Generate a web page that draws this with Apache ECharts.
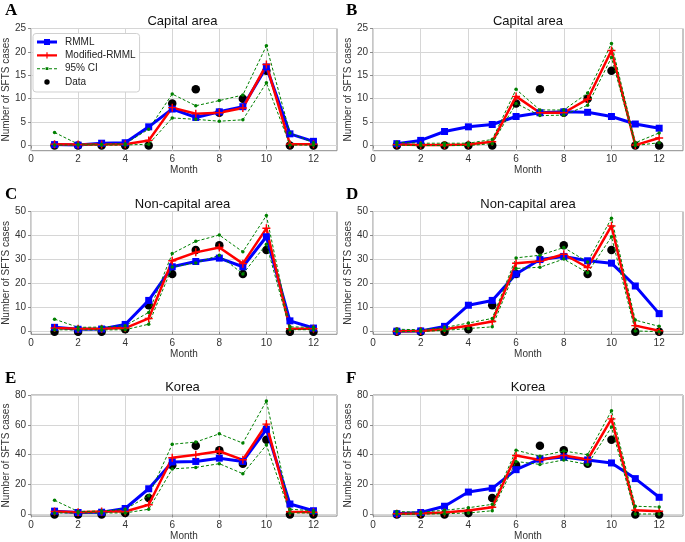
<!DOCTYPE html>
<html>
<head>
<meta charset="utf-8">
<script src="https://cdn.jsdelivr.net/npm/echarts@6/dist/echarts.min.js"></script>
<style>
  html, body { margin: 0; padding: 0; background: #fff; }
  #main { width: 685px; height: 542px; }
</style>
</head>
<body>
<div id="main"></div>
<script>
// months and tick labels
const months = [1, 2, 3, 4, 5, 6, 7, 8, 9, 10, 11, 12]
const xTicks = [0, 2, 4, 6, 8, 10, 12]
const yTicksCapital = [0, 5, 10, 15, 20, 25]
const yTicksNonCapital = [0, 10, 20, 30, 40, 50]
const yTicksKorea = [0, 20, 40, 60, 80]

// observed cases
const dataCapital = [0, 0, 0, 0, 0, 9, 12, 7, 10, 16, 0, 0]
const dataNonCapital = [0, 0, 0, 1, 11, 24, 34, 36, 24, 34, 0, 0]
const dataKorea = [0, 0, 0, 1, 11, 33, 46, 43, 34, 50, 0, 0]

// A - capital area
const rmmlA = [0.2, 0.1, 0.5, 0.6, 4.0, 7.8, 6.0, 7.2, 8.3, 16.8, 2.5, 0.9]
const modA = [0.3, 0.2, 0.2, 0.3, 1.1, 8.1, 6.8, 7.0, 8.0, 17.3, 0.3, 0.3]
const upA = [2.8, 0.3, 0.3, 0.4, 3.5, 11.0, 8.5, 9.6, 10.8, 21.3, 2.7, 0.6]
const loA = [0.1, 0.1, 0.1, 0.1, 0.3, 5.9, 5.6, 5.2, 5.5, 13.4, 0.1, 0.1]

// B - capital area
const rmmlB = [0.4, 1.1, 3.0, 4.0, 4.5, 6.2, 7.0, 7.2, 7.1, 6.2, 4.6, 3.7]
const modB = [0.2, 0.1, 0.1, 0.2, 0.8, 10.5, 7.0, 7.0, 9.9, 20.3, 0.1, 1.6]
const upB = [0.7, 0.5, 0.5, 0.5, 1.3, 12.0, 7.6, 7.6, 11.2, 21.8, 0.6, 2.7]
const loB = [0.1, 0.0, 0.0, 0.0, 0.4, 9.0, 6.4, 6.5, 8.6, 18.8, 0.0, 0.6]

// C - non-capital area
const rmmlC = [1.8, 1.0, 1.1, 3.0, 13.0, 27.0, 29.2, 30.6, 27.0, 39.5, 4.5, 1.5]
const modC = [1.5, 1.2, 1.2, 1.5, 5.5, 29.5, 33.0, 35.0, 28.3, 43.0, 1.2, 1.2]
const upC = [5.2, 1.8, 1.9, 2.5, 8.0, 32.5, 37.6, 40.2, 33.2, 48.3, 2.0, 1.8]
const loC = [0.8, 0.7, 0.7, 0.8, 3.1, 26.9, 28.6, 31.8, 24.0, 36.4, 0.8, 0.8]

// D - non-capital area
const rmmlD = [0.2, 0.3, 2.2, 11.0, 13.0, 24.0, 30.0, 31.3, 29.5, 28.5, 19.0, 7.5]
const modD = [0.2, 0.3, 1.0, 2.5, 4.2, 28.5, 29.3, 32.2, 26.7, 44.0, 2.5, 0.4]
const upD = [1.0, 0.8, 1.7, 3.6, 5.5, 30.7, 31.8, 35.0, 29.0, 47.2, 4.8, 2.2]
const loD = [0.0, 0.1, 0.5, 1.3, 2.0, 26.3, 26.8, 30.2, 24.5, 39.5, 0.3, 0.0]

// E - Korea
const rmmlE = [2.2, 1.3, 1.5, 4.0, 17.2, 35.2, 35.5, 37.7, 35.5, 57.0, 7.0, 2.5]
const modE = [2.0, 1.5, 2.0, 2.0, 6.5, 38.0, 40.0, 42.3, 36.6, 60.5, 1.8, 1.5]
const upE = [9.5, 2.0, 2.3, 3.5, 12.5, 47.0, 48.5, 54.0, 47.8, 76.0, 3.5, 2.5]
const loE = [1.0, 1.0, 1.0, 1.0, 3.5, 30.5, 31.5, 34.0, 27.3, 46.5, 1.0, 1.0]

// F - Korea
const rmmlF = [0.5, 1.3, 5.5, 15.0, 17.5, 30.0, 37.0, 38.5, 36.5, 34.5, 24.0, 11.5]
const modF = [0.5, 0.7, 1.3, 2.6, 4.8, 39.5, 36.5, 39.5, 36.8, 64.0, 2.8, 2.2]
const upF = [2.0, 1.5, 2.8, 4.5, 6.8, 43.0, 39.0, 42.5, 40.0, 69.5, 5.5, 5.0]
const loF = [0.1, 0.2, 0.5, 1.0, 2.5, 35.5, 33.5, 36.5, 33.5, 58.5, 0.3, 0.3]

const panels = [
  { letter: 'A', title: 'Capital area', left: 28, top: 28.5, width: 309, height: 122.2, yMax: 25, yTicks: yTicksCapital, rmml: rmmlA, mod: modA, up: upA, lo: loA, data: dataCapital },
  { letter: 'B', title: 'Capital area', left: 373, top: 28.5, width: 310, height: 122.2, yMax: 25, yTicks: yTicksCapital, rmml: rmmlB, mod: modB, up: upB, lo: loB, data: dataCapital },
  { letter: 'C', title: 'Non-capital area', left: 28, top: 211.5, width: 309, height: 122.8, yMax: 50, yTicks: yTicksNonCapital, rmml: rmmlC, mod: modC, up: upC, lo: loC, data: dataNonCapital },
  { letter: 'D', title: 'Non-capital area', left: 373, top: 211.5, width: 310, height: 122.8, yMax: 50, yTicks: yTicksNonCapital, rmml: rmmlD, mod: modD, up: upD, lo: loD, data: dataNonCapital },
  { letter: 'E', title: 'Korea', left: 28, top: 395, width: 309, height: 122.4, yMax: 80, yTicks: yTicksKorea, rmml: rmmlE, mod: modE, up: upE, lo: loE, data: dataKorea },
  { letter: 'F', title: 'Korea', left: 373, top: 395, width: 310, height: 122.4, yMax: 80, yTicks: yTicksKorea, rmml: rmmlF, mod: modF, up: upF, lo: loF, data: dataKorea }
]

const FONT = 'Liberation Sans, Arial, sans-serif'
const PLUS = 'path://M-0.18,-1H0.18V-0.18H1V0.18H0.18V1H-0.18V0.18H-1V-0.18H-0.18Z'

// legend icons (20 x 10 box, corners anchored)
const BOX = 'M0,0L0,0M20,10L20,10'
const ICON_RMML = 'path://' + BOX + 'M0,3.6H20V6.4H0ZM7,2H13V8H7Z'
const ICON_MOD = 'path://' + BOX + 'M0,3.8H20V6.2H0ZM9.4,1.8H10.6V8.2H9.4Z'
const ICON_CI = 'path://' + BOX + 'M0,4.5H3V5.5H0ZM5,4.5H8V5.5H5ZM12,4.5H15V5.5H12ZM17,4.5H20V5.5H17ZM8.6,3.6H11.4V6.4H8.6Z'
const ICON_DATA = 'path://' + BOX + 'M7.3,5A2.7,2.7 0 1,0 12.7,5A2.7,2.7 0 1,0 7.3,5Z'

function pairs (arr) {
  return months.map((m, i) => [m, arr[i]])
}

const chart = echarts.init(document.getElementById('main'), null, { renderer: 'canvas' })

const grid = []
const xAxis = []
const yAxis = []
const series = []
const title = []

panels.forEach(function (p, i) {
  grid.push({
    left: p.left, top: p.top, width: p.width, height: p.height,
    show: true, borderColor: '#8c8c8c', borderWidth: 1, backgroundColor: '#fff'
  })
  xAxis.push({
    gridIndex: i, type: 'value', min: 0, max: 13,
    name: 'Month', nameLocation: 'middle', nameGap: 14,
    nameTextStyle: { fontFamily: FONT, fontSize: 10, color: '#333' },
    axisLine: { show: false },
    axisTick: { show: true, length: 3, customValues: xTicks, lineStyle: { color: '#8c8c8c' } },
    axisLabel: { customValues: xTicks, margin: 4, fontFamily: FONT, fontSize: 10, color: '#333' },
    splitLine: { show: true, lineStyle: { color: '#d6d6d6', width: 1 } }
  })
  yAxis.push({
    gridIndex: i, type: 'value', min: -1.1, max: p.yMax,
    name: 'Number of SFTS cases', nameLocation: 'middle', nameGap: 17,
    nameTextStyle: { fontFamily: FONT, fontSize: 10, color: '#333' },
    axisLine: { show: false },
    axisTick: { show: true, length: 3, customValues: p.yTicks, lineStyle: { color: '#8c8c8c' } },
    axisLabel: { customValues: p.yTicks, margin: 5, fontFamily: FONT, fontSize: 10, color: '#333' },
    splitLine: { show: true, lineStyle: { color: '#d6d6d6', width: 1 } }
  })

  title.push({
    text: p.title, left: p.left + p.width / 2, top: p.top - 14, textAlign: 'center', padding: 0,
    textStyle: { fontFamily: FONT, fontSize: 13, fontWeight: 'normal', color: '#111' }
  })
  title.push({
    text: p.letter, left: p.left < 100 ? 5 : 346, top: p.top - (i < 2 ? 26 : 25), padding: 0,
    textStyle: { fontFamily: 'Liberation Serif, Times New Roman, serif', fontSize: 17, fontWeight: 'bold', color: '#000' }
  })

  series.push({
    name: 'RMML', type: 'line', xAxisIndex: i, yAxisIndex: i, data: pairs(p.rmml),
    symbol: 'rect', symbolSize: 7, color: '#0000ff',
    lineStyle: { width: 3, color: '#0000ff' }, itemStyle: { color: '#0000ff', opacity: 1 }
  })
  series.push({
    name: 'Modified-RMML', type: 'line', xAxisIndex: i, yAxisIndex: i, data: pairs(p.mod),
    symbol: PLUS, symbolSize: 8, color: '#ff0000',
    lineStyle: { width: 2.5, color: '#ff0000' }, itemStyle: { color: '#ff0000', opacity: 1 }
  })
  ;[p.up, p.lo].forEach(function (ci) {
    series.push({
      name: '95% CI', type: 'line', xAxisIndex: i, yAxisIndex: i, data: pairs(ci),
      symbol: 'circle', symbolSize: 3.5, color: '#008000',
      lineStyle: { width: 1, type: [3, 2], color: '#008000' }, itemStyle: { color: '#008000', opacity: 1 }
    })
  })
  series.push({
    name: 'Data', type: 'scatter', xAxisIndex: i, yAxisIndex: i, data: pairs(p.data),
    symbol: 'circle', symbolSize: 8.5, color: '#000', itemStyle: { color: '#000', opacity: 1 }
  })
})

const option = {
  animation: false,
  title: title,
  grid: grid,
  xAxis: xAxis,
  yAxis: yAxis,
  legend: {
    data: [
      { name: 'RMML', icon: ICON_RMML },
      { name: 'Modified-RMML', icon: ICON_MOD },
      { name: '95% CI', icon: ICON_CI },
      { name: 'Data', icon: ICON_DATA }
    ],
    orient: 'vertical', left: 33, top: 33.5,
    padding: [2.5, 4, 4, 4], itemGap: 1.33, itemWidth: 20, itemHeight: 10,
    backgroundColor: '#fff', borderColor: '#d0d0d0', borderWidth: 1, borderRadius: 3,
    textStyle: { fontFamily: FONT, fontSize: 10, color: '#222', lineHeight: 12, padding: [0, 0, 0, 3] },
    selectedMode: false
  },
  series: series
}

chart.setOption(option)
</script>
</body>
</html>
